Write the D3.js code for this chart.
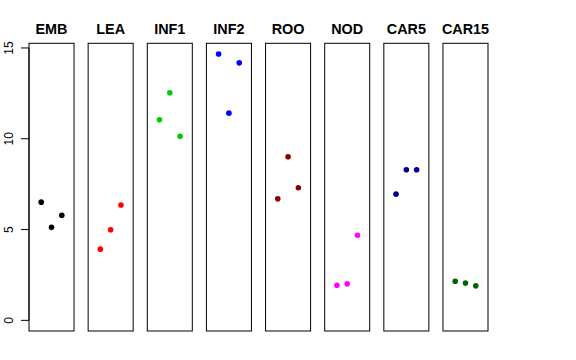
<!DOCTYPE html>
<html><head><meta charset="utf-8">
<script src="https://cdn.jsdelivr.net/npm/d3@7"></script>
<style>body{margin:0;background:#fff}</style>
</head><body>
<script>
const categories = ["EMB","LEA","INF1","INF2","ROO","NOD","CAR5","CAR15"];
const colors = ["#000000","#FF0000","#00CD00","#0000FF","#8B0000","#FF00FF","#00008B","#006400"];
const values = [
  [6.51, 5.12, 5.79],
  [3.92, 4.99, 6.35],
  [11.04, 12.53, 10.14],
  [14.67, 11.41, 14.18],
  [6.69, 9.01, 7.30],
  [1.93, 2.01, 4.69],
  [6.95, 8.29, 8.29],
  [2.15, 2.05, 1.90]
];
const yTicks = [0, 5, 10, 15];

const W = 576, H = 360;
const svg = d3.select("body").append("svg").attr("width", W).attr("height", H);

const yMax = d3.max(values.flat());
const ext = 0.04 * yMax;
const y = d3.scaleLinear().domain([0 - ext, yMax + ext]).range([331, 43.3]);

const xPanel = d3.scaleBand().domain(categories).range([29, 488]).paddingInner(0.2386);

categories.forEach((c, i) => {
  const x0 = xPanel(c), bw = xPanel.bandwidth();
  const cx = x0 + bw / 2;
  const xi = d3.scalePoint().domain([0, 1, 2]).range([cx - 10.3, cx + 10.3]);
  const g = svg.append("g");
  g.append("rect").attr("x", x0).attr("y", y.range()[1]).attr("width", bw)
    .attr("height", y.range()[0] - y.range()[1]).attr("fill", "none")
    .attr("stroke", "#000").attr("stroke-width", 1);
  g.selectAll("circle").data(values[i]).join("circle")
    .attr("cx", (d, j) => xi(j)).attr("cy", d => y(d)).attr("r", 2.8)
    .attr("fill", colors[i]);
  g.append("text").attr("x", cx).attr("y", 34).attr("text-anchor", "middle")
    .attr("font-family", "Liberation Sans, Arial, sans-serif").attr("font-weight", "bold")
    .attr("font-size", 14.4).text(c);
});

// y axis
const axisG = svg.append("g").attr("transform", "translate(29,0)");
axisG.append("line").attr("x1", 0).attr("x2", 0).attr("y1", y(0)).attr("y2", y(15)).attr("stroke", "#000");
yTicks.forEach(t => {
  axisG.append("line").attr("x1", -8).attr("x2", 0).attr("y1", y(t)).attr("y2", y(t)).attr("stroke", "#000");
  axisG.append("text").attr("transform", `translate(-16.5,${y(t)}) rotate(-90)`)
    .attr("text-anchor", "middle").attr("font-family", "Liberation Sans, Arial, sans-serif")
    .attr("font-size", 12).text(t);
});
</script>
</body></html>
